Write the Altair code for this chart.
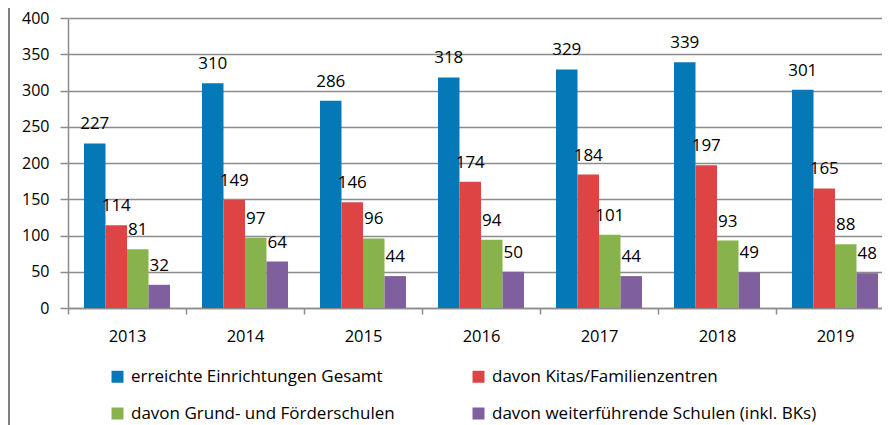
import altair as alt
import pandas as pd

years = ["2013", "2014", "2015", "2016", "2017", "2018", "2019"]
series = [
    "erreichte Einrichtungen Gesamt",
    "davon Kitas/Familienzentren",
    "davon Grund- und Förderschulen",
    "davon weiterführende Schulen (inkl. BKs)",
]
gesamt = [227, 310, 286, 318, 329, 339, 301]
kitas = [114, 149, 146, 174, 184, 197, 165]
grund = [81, 97, 96, 94, 101, 93, 88]
weiter = [32, 64, 44, 50, 44, 49, 48]
colors = ["#0579B8", "#DE4444", "#88B34C", "#7F5F9E"]
y_ticks = [0, 50, 100, 150, 200, 250, 300, 350, 400]

rows = []
for i, yr in enumerate(years):
    for s, vals in zip(series, [gesamt, kitas, grund, weiter]):
        rows.append({"Jahr": yr, "Reihe": s, "Wert": vals[i]})
df = pd.DataFrame(rows)

FONT = "Open Sans"
GRID = "#8c8c8c"

x = alt.X(
    "Jahr:N",
    sort=years,
    scale=alt.Scale(range=[0, 826], paddingInner=0, paddingOuter=0),
    axis=alt.Axis(
        title=None, labelAngle=0, tickBand="extent", ticks=True, tickSize=6,
        labelPadding=14, labelFontSize=16.5, labelFont=FONT, labelColor="#000000",
        domainColor=GRID, tickColor=GRID, domainWidth=1.5, tickWidth=1.5,
    ),
)
xo = alt.XOffset("Reihe:N", sort=series, scale=alt.Scale(paddingInner=0, paddingOuter=0.744))
y = alt.Y(
    "Wert:Q",
    scale=alt.Scale(domain=[0, 400], nice=False),
    axis=alt.Axis(
        title=None, values=y_ticks, tickSize=8, labelPadding=11, grid=True,
        gridColor=GRID, gridWidth=1.5, domainColor=GRID, tickColor=GRID,
        domainWidth=1.5, tickWidth=1.5, labelFontSize=16, labelFont=FONT,
        labelColor="#000000",
    ),
)
color = alt.Color(
    "Reihe:N",
    sort=series,
    scale=alt.Scale(domain=series, range=colors),
    legend=alt.Legend(
        title=None, orient="none", legendX=41, legendY=350, columns=2,
        direction="horizontal",
        columnPadding=75, rowPadding=19, symbolType="square", symbolSize=144,
        labelFontSize=17, labelFont=FONT, labelColor="#000000", labelLimit=0,
        symbolStrokeWidth=0, labelOffset=5, padding=0,
    ),
)

bars = alt.Chart(df).mark_bar().encode(x=x, xOffset=xo, y=y, color=color)
labels = alt.Chart(df).mark_text(
    dy=-14, baseline="alphabetic", fontSize=17, font=FONT, color="#000000"
).encode(x=x, xOffset=xo, y=y, text="Wert:Q")
border = alt.Chart(pd.DataFrame({"a": [0]})).mark_rule(color="#808080", strokeWidth=2).encode(
    x=alt.value(-59), y=alt.value(-10), y2=alt.value(407)
)

chart = (
    alt.layer(bars, labels, border)
    .properties(
        width=814, height=290,
        padding={"left": 60, "top": 10, "right": 0, "bottom": 117},
        autosize=alt.AutoSizeParams(type="none"),
    )
    .configure_view(stroke=None)
)

chart.save("out.html", embed_options={"renderer": "svg", "actions": False})
